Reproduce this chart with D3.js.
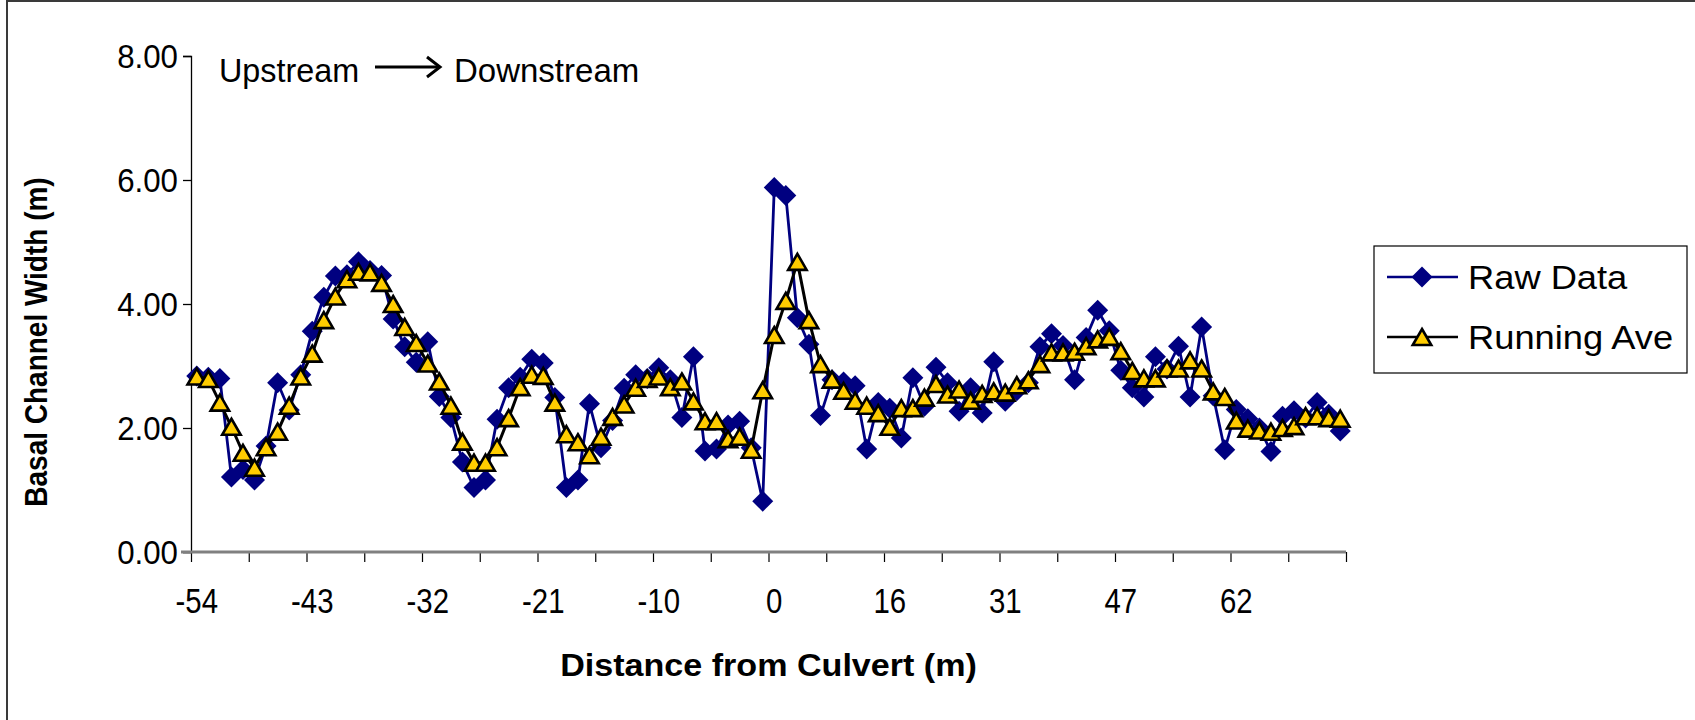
<!DOCTYPE html>
<html>
<head>
<meta charset="utf-8">
<script src="https://cdn.jsdelivr.net/npm/d3@7"></script>
<style>
  html, body { margin: 0; padding: 0; background: #fff; }
  svg { display: block; font-family: "Liberation Sans", Arial, sans-serif; }
</style>
</head>
<body>
<svg id="chart" width="1695" height="720"></svg>
<script>
// Basal channel width measured along the reach, upstream to downstream of the culvert.
const seriesNames = ["Raw Data", "Running Ave"];
const tickLabels = ["-54", "-43", "-32", "-21", "-10", "0", "16", "31", "47", "62"];
const yTicks = [0, 2, 4, 6, 8];

const rawData = [
  2.84, 2.82, 2.80, 1.21, 1.33, 1.16, 1.71, 2.73, 2.29, 2.86,
  3.56, 4.11, 4.45, 4.47, 4.68, 4.54, 4.46, 3.76, 3.31, 3.06,
  3.39, 2.51, 2.17, 1.45, 1.04, 1.16, 2.14, 2.65, 2.82, 3.11,
  3.05, 2.49, 1.04, 1.16, 2.39, 1.68, 2.12, 2.64, 2.86, 2.80,
  2.97, 2.78, 2.17, 3.15, 1.63, 1.66, 2.05, 2.11, 1.68, 0.82,
  5.88, 5.75, 3.78, 3.35, 2.20, 2.78, 2.74, 2.68, 1.66, 2.41,
  2.32, 1.84, 2.81, 2.35, 2.98, 2.73, 2.27, 2.65, 2.24, 3.07,
  2.43, 2.60, 2.73, 3.31, 3.52, 3.33, 2.78, 3.46, 3.90, 3.57,
  2.93, 2.65, 2.50, 3.15, 2.95, 3.32, 2.50, 3.63, 2.52, 1.65,
  2.30, 2.15, 2.00, 1.62, 2.19, 2.28, 2.16, 2.41, 2.22, 1.95
];

const runningAve = [
  2.83, 2.79, 2.41, 2.02, 1.60, 1.36, 1.69, 1.94, 2.36, 2.83,
  3.20, 3.74, 4.12, 4.40, 4.52, 4.51, 4.34, 4.00, 3.63, 3.37,
  3.04, 2.75, 2.36, 1.78, 1.44, 1.44, 1.69, 2.16, 2.66, 2.86,
  2.84, 2.41, 1.90, 1.77, 1.56, 1.86, 2.18, 2.38, 2.65, 2.79,
  2.83, 2.66, 2.75, 2.43, 2.11, 2.11, 1.82, 1.86, 1.65, 2.61,
  3.50, 4.05, 4.68, 3.74, 3.03, 2.78, 2.60, 2.44, 2.36, 2.24,
  2.02, 2.32, 2.32, 2.49, 2.71, 2.54, 2.62, 2.44, 2.55, 2.59,
  2.57, 2.69, 2.77, 3.03, 3.22, 3.22, 3.23, 3.32, 3.43, 3.47,
  3.24, 2.92, 2.80, 2.80, 2.96, 2.96, 3.09, 2.96, 2.59, 2.50,
  2.12, 1.99, 1.96, 1.94, 2.00, 2.03, 2.19, 2.19, 2.16, 2.15
];

const svg = d3.select("#chart");
const W = 1695, H = 720;
const plot = { left: 191, right: 1346, top: 56, bottom: 552 };

const NAVY = "#000080", GOLD = "#FFCC00";

// chart-area frame
svg.append("rect")
  .attr("x", 7).attr("y", 1).attr("width", W).attr("height", H + 10)
  .attr("fill", "#fff").attr("stroke", "#3a3a3a").attr("stroke-width", 2);

const idx = d3.range(rawData.length);
const x = d3.scaleBand().domain(idx).range([plot.left, plot.right]).paddingInner(0).paddingOuter(0);
const xc = i => x(i) + x.bandwidth() / 2;
const y = d3.scaleLinear().domain([0, 8]).range([plot.bottom, plot.top]);

// text with its own horizontal stretch factor
function stretchedText(g, px, py, str, opts) {
  return g.append("text")
    .attr("transform", `translate(${px},${py}) scale(${opts.sx || 1},1)`)
    .attr("text-anchor", opts.anchor || "start")
    .attr("font-size", opts.size)
    .attr("font-weight", opts.weight || "normal")
    .attr("fill", "#000")
    .text(str);
}

// y axis
const yAxis = d3.axisLeft(y).tickValues(yTicks).tickSize(8).tickFormat(d3.format(".2f"));
const yg = svg.append("g").attr("transform", `translate(${plot.left},0)`).call(yAxis);
yg.select(".domain").attr("stroke", "#000").attr("stroke-width", 1.3);
yg.selectAll(".tick line").attr("stroke", "#000").attr("stroke-width", 1.3);
yg.selectAll(".tick text").remove();
yTicks.forEach(v => {
  stretchedText(svg, plot.left - 13, y(v) + 12, d3.format(".2f")(v), { anchor: "end", size: 34, sx: 0.92 });
});

// x axis: tick marks every 5 categories on the band edges
const xTickScale = d3.scaleLinear().domain([0, idx.length]).range([plot.left, plot.right]);
const xAxis = d3.axisBottom(xTickScale).tickValues(d3.range(0, idx.length + 1, 5)).tickSize(10).tickFormat("");
const xg = svg.append("g").attr("transform", `translate(0,${plot.bottom})`).call(xAxis);
xg.select(".domain").remove();
xg.selectAll(".tick line").attr("stroke", "#000").attr("stroke-width", 1.2);
svg.append("line")
  .attr("x1", plot.left - 10).attr("x2", plot.right)
  .attr("y1", plot.bottom).attr("y2", plot.bottom)
  .attr("stroke", "#808080").attr("stroke-width", 3);

// category labels every 10 points
tickLabels.forEach((lab, k) => {
  stretchedText(svg, xc(k * 10), 613, lab, { anchor: "middle", size: 35, sx: 0.84 });
});

// axis titles
stretchedText(svg, (plot.left + plot.right) / 2 + 0, 676, "Distance from Culvert (m)", { anchor: "middle", size: 31, weight: "bold", sx: 1.1 });
svg.append("text")
  .attr("transform", `translate(47,${(plot.top + plot.bottom) / 2 + 38}) scale(1.15,1) rotate(-90)`)
  .attr("text-anchor", "middle")
  .attr("font-size", 28).attr("font-weight", "bold")
  .text("Basal Channel Width (m)");

// direction note
stretchedText(svg, 219, 82, "Upstream", { size: 33, sx: 0.98 });
stretchedText(svg, 454, 82, "Downstream", { size: 33, sx: 1.0 });
svg.append("line").attr("x1", 375).attr("x2", 438).attr("y1", 67).attr("y2", 67)
  .attr("stroke", "#000").attr("stroke-width", 3);
svg.append("path").attr("d", "M427,57 L440,67 L427,77")
  .attr("fill", "none").attr("stroke", "#000").attr("stroke-width", 3);

// series
const line = d3.line().x((d, i) => xc(i)).y(d => y(d));

function diamondPath(s) {
  return `M0,${-s} L${s},0 L0,${s} L${-s},0 Z`;
}
function trianglePath(w, h) {
  return `M0,${-h / 2} L${w / 2},${h / 2} L${-w / 2},${h / 2} Z`;
}

const gRaw = svg.append("g");
gRaw.append("path").datum(rawData).attr("d", line)
  .attr("fill", "none").attr("stroke", NAVY).attr("stroke-width", 2.8);
gRaw.selectAll("path.m").data(rawData).join("path").attr("class", "m")
  .attr("transform", (d, i) => `translate(${xc(i)},${y(d)})`)
  .attr("d", diamondPath(10.5)).attr("fill", NAVY);

const gAve = svg.append("g");
gAve.append("path").datum(runningAve).attr("d", line)
  .attr("fill", "none").attr("stroke", "#000").attr("stroke-width", 3);
gAve.selectAll("path.m").data(runningAve).join("path").attr("class", "m")
  .attr("transform", (d, i) => `translate(${xc(i)},${y(d)})`)
  .attr("d", trianglePath(18.5, 16)).attr("fill", GOLD)
  .attr("stroke", "#000").attr("stroke-width", 2.6).attr("stroke-linejoin", "miter");

// legend
const lg = svg.append("g");
lg.append("rect").attr("x", 1374).attr("y", 246).attr("width", 313).attr("height", 127)
  .attr("fill", "#fff").attr("stroke", "#000").attr("stroke-width", 1.2);
const legendRows = [
  { name: seriesNames[0], y: 277, color: NAVY, marker: "d" },
  { name: seriesNames[1], y: 337, color: "#000", marker: "t" }
];
legendRows.forEach(r => {
  lg.append("line").attr("x1", 1387).attr("x2", 1458).attr("y1", r.y).attr("y2", r.y)
    .attr("stroke", r.color).attr("stroke-width", 2.6);
  if (r.marker === "d") {
    lg.append("path").attr("transform", `translate(1422,${r.y})`).attr("d", diamondPath(10.5)).attr("fill", NAVY);
  } else {
    lg.append("path").attr("transform", `translate(1422,${r.y})`).attr("d", trianglePath(18.5, 16))
      .attr("fill", GOLD).attr("stroke", "#000").attr("stroke-width", 2.6);
  }
  stretchedText(lg, 1468, r.y + 12, r.name, { size: 33, sx: 1.1 });
});
</script>
</body>
</html>
